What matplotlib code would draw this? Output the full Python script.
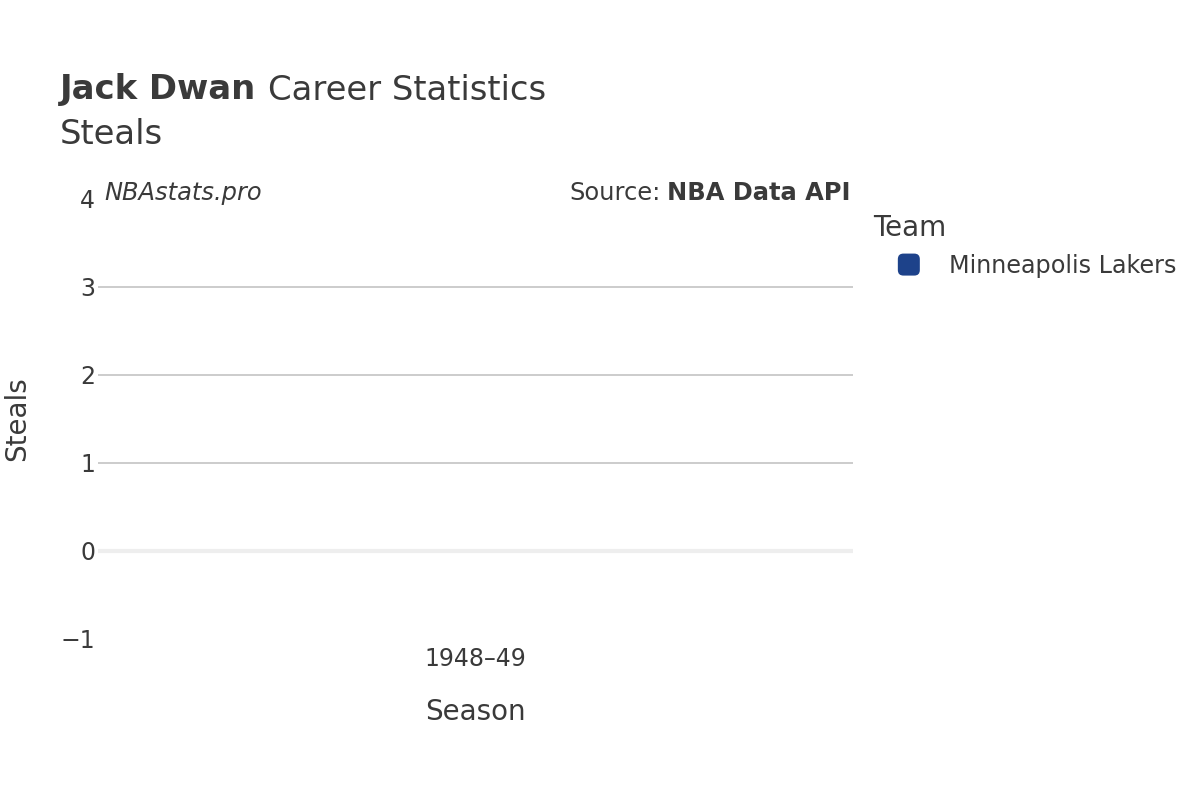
import matplotlib.pyplot as plt
from matplotlib.patches import Patch, FancyBboxPatch
from matplotlib.legend_handler import HandlerPatch

seasons = ['1948–49']
steals = [0]
team = 'Minneapolis Lakers'
team_color = '#1d428a'
text_color = '#3a3a3a'


class RoundSquare(HandlerPatch):
    # small rounded square centred in the handle box, like the plotly legend
    def create_artists(self, legend, orig_handle, xdescent, ydescent, width, height, fontsize, trans):
        side = 22 * 72 / 100
        cx = width / 2 - xdescent
        cy = height / 2 - ydescent
        p = FancyBboxPatch((cx - side / 2, cy - side / 2), side, side,
                           boxstyle='round,pad=0,rounding_size=4',
                           facecolor=orig_handle.get_facecolor(), edgecolor='none', transform=trans)
        return [p]


fig = plt.figure(figsize=(12, 8), dpi=100)
ax = fig.add_axes([98 / 1200, 1 - 639 / 800, (853 - 98) / 1200, (639 - 199) / 800])

ax.bar(range(len(seasons)), steals, width=0.8, color=team_color)
ax.set_xlim(-0.5, len(seasons) - 0.5)
ax.set_ylim(-1, 4)
ax.set_xticks(range(len(seasons)))
ax.set_xticklabels(seasons)
ax.set_yticks([-1, 0, 1, 2, 3, 4])
ax.set_yticklabels(['\u22121', '0', '1', '2', '3', '4'])

for v in [1, 2, 3]:
    ax.axhline(v, color='#c8c8c8', linewidth=1.3, zorder=0)
ax.axhline(0, color='#eeeeee', linewidth=3, zorder=1)

for s in ax.spines.values():
    s.set_visible(False)
ax.tick_params(axis='both', length=0, labelsize=17, colors=text_color)
ax.tick_params(axis='x', pad=6)
ax.tick_params(axis='y', pad=2)

ax.set_xlabel('Season', fontsize=20, color=text_color)
ax.xaxis.set_label_coords(0.5, (639 - 712) / 440)
ax.xaxis.label.set_va('center')
ax.set_ylabel('Steals', fontsize=20, color=text_color)
ax.yaxis.set_label_coords((17 - 98) / 755, 0.5)
ax.yaxis.label.set_va('center')

fig.text(60 / 1200, 1 - 90 / 800, 'Jack Dwan', fontsize=24.4, fontweight='bold', color=text_color, va='center')
fig.text(268 / 1200, 1 - 90 / 800, 'Career Statistics', fontsize=24.4, color=text_color, va='center')
fig.text(60 / 1200, 1 - 134 / 800, 'Steals', fontsize=24.4, color=text_color, va='center')

fig.text(104 / 1200, 1 - 193 / 800, 'NBAstats.pro', fontsize=17.4, style='italic', color=text_color, va='center')
fig.text(851 / 1200, 1 - 193 / 800, 'NBA Data API', fontsize=17.4, fontweight='bold', color=text_color, va='center', ha='right')
fig.text(661 / 1200, 1 - 193 / 800, 'Source:', fontsize=17.4, color=text_color, va='center', ha='right')

handle = Patch(facecolor=team_color)
leg = fig.legend([handle], [team], loc='upper left', bbox_to_anchor=(873 / 1200, 1 - 214 / 800),
                 frameon=False, fontsize=17.2, title='Team', title_fontsize=20,
                 borderpad=0, borderaxespad=0, handlelength=3.0, handletextpad=0.17,
                 alignment='left', handler_map={Patch: RoundSquare()})
for t in leg.get_texts():
    t.set_color(text_color)
leg.get_title().set_color(text_color)

fig.savefig('out.png', dpi=100)
